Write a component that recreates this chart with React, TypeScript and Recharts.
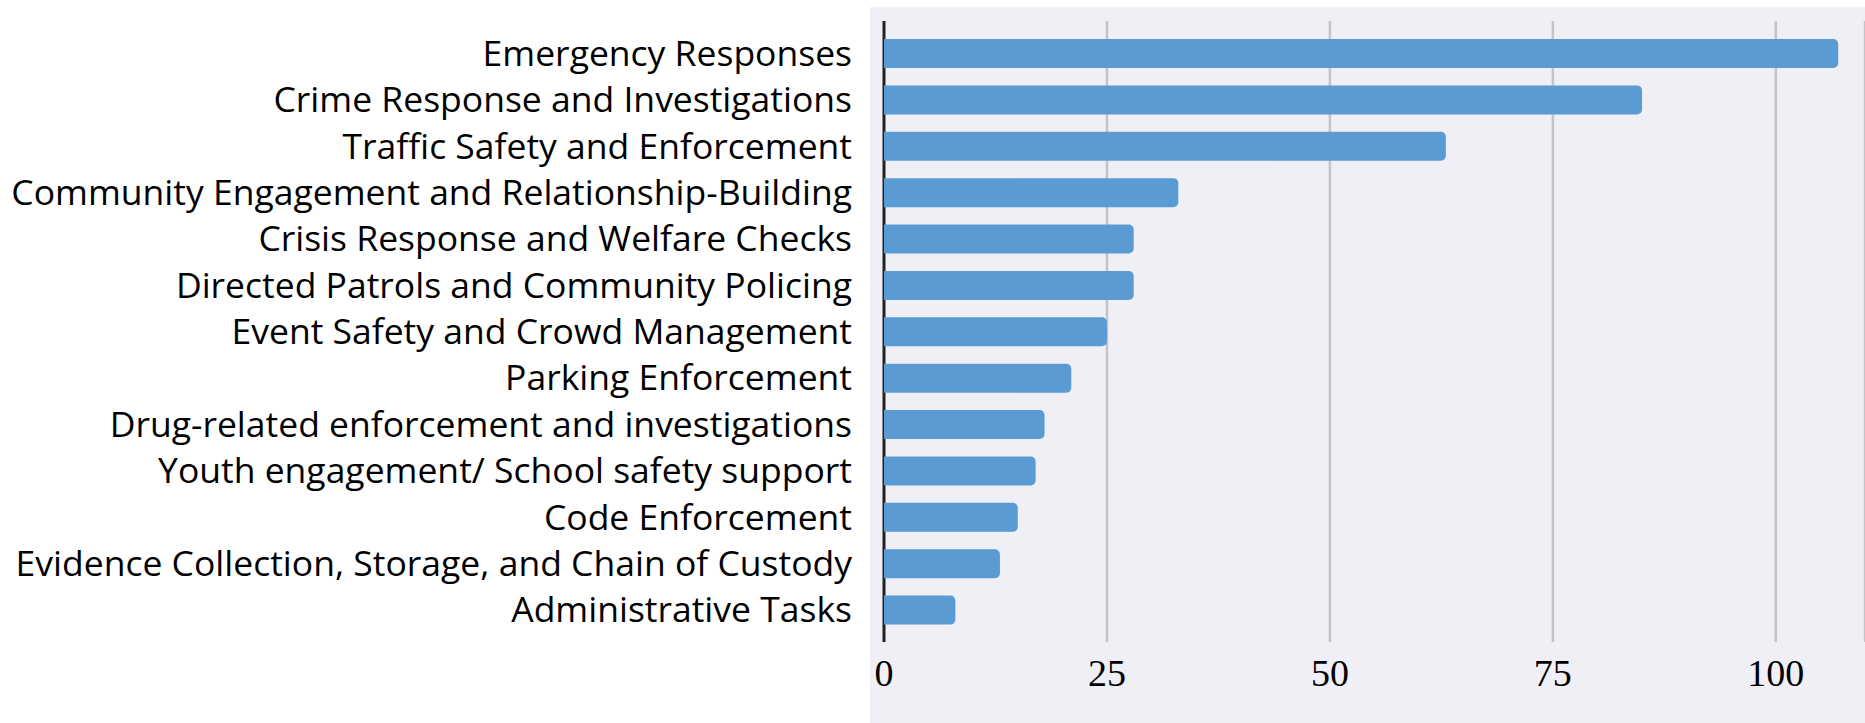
import { Bar, BarChart, CartesianGrid, XAxis, YAxis } from "recharts";

const categories = [
  "Emergency Responses",
  "Crime Response and Investigations",
  "Traffic Safety and Enforcement",
  "Community Engagement and Relationship-Building",
  "Crisis Response and Welfare Checks",
  "Directed Patrols and Community Policing",
  "Event Safety and Crowd Management",
  "Parking Enforcement",
  "Drug-related enforcement and investigations",
  "Youth engagement/ School safety support",
  "Code Enforcement",
  "Evidence Collection, Storage, and Chain of Custody",
  "Administrative Tasks",
];

const counts = [107, 85, 63, 33, 28, 28, 25, 21, 18, 17, 15, 13, 8];

const xTicks = [0, 25, 50, 75, 100];

const data = categories.map((name, i) => ({ name, count: counts[i] }));

function GridLine(props: any) {
  const { x1, y1, x2, y2, index } = props;
  const zero = index === 0;
  return (
    <line
      key={props.key}
      x1={x1}
      y1={y1}
      x2={x2}
      y2={y2}
      stroke={zero ? "#222222" : "#c3c3c8"}
      strokeWidth={zero ? 3 : 2.5}
      fill="none"
    />
  );
}

export default function App() {
  return (
    <div style={{ position: "absolute", left: 0, top: 0, width: 1865, height: 723, background: "#ffffff" }}>
      <div
        style={{ position: "absolute", left: 870, top: 7, width: 995, height: 716, background: "#efeff5" }}
      />
      <div style={{ position: "absolute", left: 0, top: 0 }}>
        <BarChart
          width={1865}
          height={723}
          data={data}
          layout="vertical"
          margin={{ top: 21, right: 0, bottom: 51, left: 0 }}
        >
          <CartesianGrid horizontal={false} vertical={GridLine} />
          <XAxis
            type="number"
            domain={[0, 110]}
            ticks={xTicks}
            height={30}
            axisLine={false}
            tickLine={false}
            tickSize={0}
            tickMargin={17}
            tick={{ fontSize: 38, fill: "#000000", fontFamily: "Liberation Serif" }}
          />
          <YAxis
            type="category"
            dataKey="name"
            width={884}
            padding={{ top: 9, bottom: 9 }}
            axisLine={false}
            tickLine={false}
            tickSize={0}
            tickMargin={32}
            interval={0}
            tick={{ fontSize: 35.5, fill: "#000000", fontFamily: "Open Sans" }}
          />
          <Bar
            dataKey="count"
            fill="#5b9bd3"
            barSize={29}
            radius={[0, 5, 5, 0]}
            isAnimationActive={false}
          />
        </BarChart>
      </div>
    </div>
  );
}
